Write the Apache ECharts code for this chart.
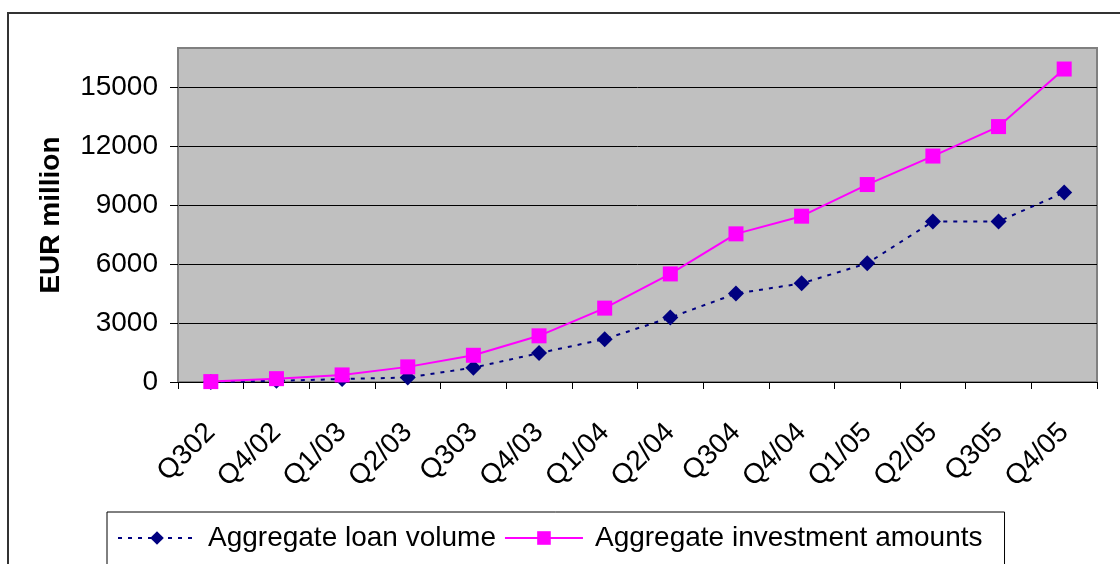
<!DOCTYPE html>
<html><head><meta charset="utf-8">
<script src="https://cdn.jsdelivr.net/npm/echarts@6/dist/echarts.min.js"></script>
<style>html,body{margin:0;padding:0;background:#fff}#c{width:1120px;height:564px}</style>
</head><body><div id="c"></div>
<script>
const categories = ['Q302','Q4/02','Q1/03','Q2/03','Q303','Q4/03','Q1/04','Q2/04','Q304','Q4/04','Q1/05','Q2/05','Q305','Q4/05'];
const loanVolume = [0, 60, 150, 230, 730, 1470, 2180, 3280, 4500, 5020, 6040, 8170, 8170, 9650];
const investmentAmounts = [20, 170, 360, 770, 1360, 2350, 3760, 5500, 7540, 8440, 10050, 11500, 13000, 15930];
const yTicks = [0, 3000, 6000, 9000, 12000, 15000];

const FONT = "'Liberation Sans', Arial, sans-serif";
const chart = echarts.init(document.getElementById('c'), null, {renderer: 'canvas'});
chart.setOption({
  animation: false,
  backgroundColor: '#fff',
  graphic: [{
    type: 'rect', z: 100, silent: true,
    shape: {x: 8, y: 13, width: 1300, height: 700},
    style: {fill: 'none', stroke: '#333', lineWidth: 2}
  }],
  grid: {
    left: 178, top: 48, right: 23, bottom: 182,
    show: true, backgroundColor: '#C0C0C0', borderColor: '#808080', borderWidth: 2,
    containLabel: false
  },
  legend: {
    left: 107, top: 512,
    padding: [12, 22, 14, 10],
    itemGap: 8,
    itemWidth: 78, itemHeight: 17,
    borderColor: '#000', borderWidth: 1,
    backgroundColor: '#fff',
    textStyle: {fontFamily: FONT, fontSize: 28, color: '#000', padding: [0, 0, 0, 7]},
    data: ['Aggregate loan volume', 'Aggregate investment amounts']
  },
  xAxis: {
    type: 'category',
    data: categories,
    boundaryGap: true,
    axisLine: {show: true, lineStyle: {color: '#000', width: 1}},
    axisTick: {show: true, length: 7, lineStyle: {color: '#000'}},
    axisLabel: {rotate: 45, margin: 46, fontFamily: FONT, fontSize: 28, color: '#000', interval: 0},
    splitLine: {show: false}
  },
  yAxis: {
    type: 'value',
    min: 0, max: 17000, interval: 3000,
    name: 'EUR million',
    nameLocation: 'middle',
    nameGap: 113,
    nameRotate: 90,
    nameTextStyle: {fontFamily: FONT, fontSize: 28, fontWeight: 'bold', color: '#000'},
    axisLine: {show: true, lineStyle: {color: '#808080', width: 2}},
    axisTick: {show: true, length: 8, lineStyle: {color: '#000'}},
    axisLabel: {
      showMaxLabel: false, margin: 20, fontFamily: FONT, fontSize: 28, color: '#000',
      formatter: v => yTicks.includes(v) ? String(v) : ''
    },
    splitLine: {show: true, lineStyle: {color: ['#000','#000','#000','#000','#000','#000','#808080'], width: 1}}
  },
  series: [
    {
      name: 'Aggregate loan volume',
      type: 'line',
      data: loanVolume,
      symbol: 'diamond', symbolSize: 16,
      itemStyle: {color: '#000080'},
      lineStyle: {color: '#000080', width: 2, type: [4, 6]},
      z: 2
    },
    {
      name: 'Aggregate investment amounts',
      type: 'line',
      data: investmentAmounts,
      symbol: 'rect', symbolSize: 15,
      itemStyle: {color: '#FF00FF'},
      lineStyle: {color: '#FF00FF', width: 2},
      z: 3
    }
  ]
});
</script></body></html>
